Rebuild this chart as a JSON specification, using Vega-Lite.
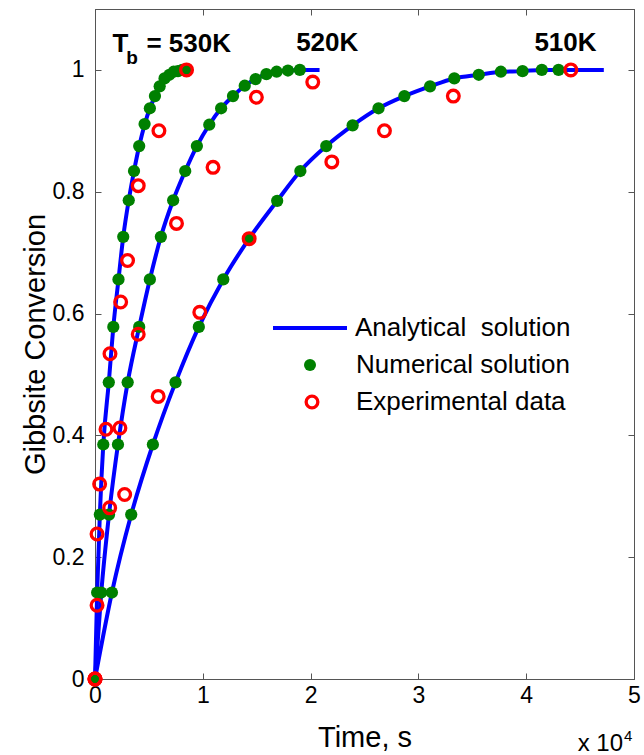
{
  "$schema": "https://vega.github.io/schema/vega-lite/v6.json",
  "width": 539,
  "height": 670,
  "autosize": {"type": "none"},
  "padding": {"left": 95, "top": 9, "right": 10, "bottom": 76},
  "background": "white",
  "datasets": {
    "analytical": [
      {"T": "530K", "t": 0, "X": 0}, {"T": "530K", "t": 200, "X": 0.142}, {"T": "530K", "t": 450, "X": 0.27}, {"T": "530K", "t": 770, "X": 0.385}, {"T": "530K", "t": 1280, "X": 0.487}, {"T": "530K", "t": 1700, "X": 0.578}, {"T": "530K", "t": 2180, "X": 0.656}, {"T": "530K", "t": 2620, "X": 0.726}, {"T": "530K", "t": 3130, "X": 0.786}, {"T": "530K", "t": 3620, "X": 0.834}, {"T": "530K", "t": 4100, "X": 0.875}, {"T": "530K", "t": 4600, "X": 0.91}, {"T": "530K", "t": 5090, "X": 0.937}, {"T": "530K", "t": 5580, "X": 0.957}, {"T": "530K", "t": 6070, "X": 0.973}, {"T": "530K", "t": 6550, "X": 0.986}, {"T": "530K", "t": 7000, "X": 0.994}, {"T": "530K", "t": 7450, "X": 0.998}, {"T": "530K", "t": 7900, "X": 1.0}, {"T": "530K", "t": 8600, "X": 1.0},
      {"T": "520K", "t": 0, "X": 0}, {"T": "520K", "t": 580, "X": 0.142}, {"T": "520K", "t": 1300, "X": 0.27}, {"T": "520K", "t": 2130, "X": 0.385}, {"T": "520K", "t": 3030, "X": 0.487}, {"T": "520K", "t": 4100, "X": 0.578}, {"T": "520K", "t": 5090, "X": 0.656}, {"T": "520K", "t": 6110, "X": 0.726}, {"T": "520K", "t": 7250, "X": 0.786}, {"T": "520K", "t": 8370, "X": 0.834}, {"T": "520K", "t": 9450, "X": 0.875}, {"T": "520K", "t": 10600, "X": 0.91}, {"T": "520K", "t": 11700, "X": 0.937}, {"T": "520K", "t": 12800, "X": 0.957}, {"T": "520K", "t": 13890, "X": 0.974}, {"T": "520K", "t": 14900, "X": 0.985}, {"T": "520K", "t": 15900, "X": 0.993}, {"T": "520K", "t": 16850, "X": 0.997}, {"T": "520K", "t": 17900, "X": 0.999}, {"T": "520K", "t": 19000, "X": 1.0}, {"T": "520K", "t": 20830, "X": 1.0},
      {"T": "510K", "t": 0, "X": 0}, {"T": "510K", "t": 1570, "X": 0.142}, {"T": "510K", "t": 3360, "X": 0.27}, {"T": "510K", "t": 5370, "X": 0.385}, {"T": "510K", "t": 7470, "X": 0.487}, {"T": "510K", "t": 9630, "X": 0.578}, {"T": "510K", "t": 11900, "X": 0.656}, {"T": "510K", "t": 14300, "X": 0.723}, {"T": "510K", "t": 16900, "X": 0.785}, {"T": "510K", "t": 19050, "X": 0.834}, {"T": "510K", "t": 21450, "X": 0.875}, {"T": "510K", "t": 23900, "X": 0.909}, {"T": "510K", "t": 26300, "X": 0.937}, {"T": "510K", "t": 28700, "X": 0.957}, {"T": "510K", "t": 31080, "X": 0.973}, {"T": "510K", "t": 33330, "X": 0.986}, {"T": "510K", "t": 35600, "X": 0.992}, {"T": "510K", "t": 37650, "X": 0.997}, {"T": "510K", "t": 39660, "X": 0.998}, {"T": "510K", "t": 41450, "X": 1.0}, {"T": "510K", "t": 43000, "X": 1.0}, {"T": "510K", "t": 47200, "X": 1.0}
    ],
    "numerical": [
      {"T": "530K", "t": 0, "X": 0}, {"T": "530K", "t": 200, "X": 0.142}, {"T": "530K", "t": 450, "X": 0.27}, {"T": "530K", "t": 770, "X": 0.385}, {"T": "530K", "t": 1280, "X": 0.487}, {"T": "530K", "t": 1700, "X": 0.578}, {"T": "530K", "t": 2180, "X": 0.656}, {"T": "530K", "t": 2620, "X": 0.726}, {"T": "530K", "t": 3130, "X": 0.786}, {"T": "530K", "t": 3620, "X": 0.834}, {"T": "530K", "t": 4100, "X": 0.875}, {"T": "530K", "t": 4600, "X": 0.911}, {"T": "530K", "t": 5090, "X": 0.937}, {"T": "530K", "t": 5560, "X": 0.957}, {"T": "530K", "t": 6000, "X": 0.973}, {"T": "530K", "t": 6450, "X": 0.986}, {"T": "530K", "t": 6900, "X": 0.992}, {"T": "530K", "t": 7300, "X": 0.997}, {"T": "530K", "t": 7700, "X": 0.998}, {"T": "530K", "t": 8100, "X": 1.0}, {"T": "530K", "t": 8490, "X": 1.0},
      {"T": "520K", "t": 0, "X": 0}, {"T": "520K", "t": 580, "X": 0.142}, {"T": "520K", "t": 1300, "X": 0.27}, {"T": "520K", "t": 2130, "X": 0.385}, {"T": "520K", "t": 3030, "X": 0.487}, {"T": "520K", "t": 4100, "X": 0.578}, {"T": "520K", "t": 5090, "X": 0.656}, {"T": "520K", "t": 6110, "X": 0.726}, {"T": "520K", "t": 7250, "X": 0.786}, {"T": "520K", "t": 8370, "X": 0.834}, {"T": "520K", "t": 9450, "X": 0.875}, {"T": "520K", "t": 10600, "X": 0.91}, {"T": "520K", "t": 11700, "X": 0.937}, {"T": "520K", "t": 12800, "X": 0.957}, {"T": "520K", "t": 13890, "X": 0.974}, {"T": "520K", "t": 14900, "X": 0.985}, {"T": "520K", "t": 15900, "X": 0.993}, {"T": "520K", "t": 16850, "X": 0.997}, {"T": "520K", "t": 17900, "X": 0.999}, {"T": "520K", "t": 19000, "X": 1.0},
      {"T": "510K", "t": 0, "X": 0}, {"T": "510K", "t": 1570, "X": 0.142}, {"T": "510K", "t": 3360, "X": 0.27}, {"T": "510K", "t": 5370, "X": 0.385}, {"T": "510K", "t": 7470, "X": 0.487}, {"T": "510K", "t": 9630, "X": 0.578}, {"T": "510K", "t": 11900, "X": 0.656}, {"T": "510K", "t": 14300, "X": 0.723}, {"T": "510K", "t": 16900, "X": 0.785}, {"T": "510K", "t": 19050, "X": 0.834}, {"T": "510K", "t": 21450, "X": 0.875}, {"T": "510K", "t": 23900, "X": 0.909}, {"T": "510K", "t": 26300, "X": 0.937}, {"T": "510K", "t": 28700, "X": 0.957}, {"T": "510K", "t": 31080, "X": 0.973}, {"T": "510K", "t": 33330, "X": 0.986}, {"T": "510K", "t": 35600, "X": 0.992}, {"T": "510K", "t": 37650, "X": 0.997}, {"T": "510K", "t": 39660, "X": 0.998}, {"T": "510K", "t": 41450, "X": 1.0}, {"T": "510K", "t": 43000, "X": 1.0}
    ],
    "experimental": [
      {"T": "530K", "t": 0, "X": 0}, {"T": "530K", "t": 190, "X": 0.121}, {"T": "530K", "t": 190, "X": 0.238}, {"T": "530K", "t": 430, "X": 0.32}, {"T": "530K", "t": 1020, "X": 0.41}, {"T": "530K", "t": 1390, "X": 0.534}, {"T": "530K", "t": 2380, "X": 0.619}, {"T": "530K", "t": 3020, "X": 0.687}, {"T": "530K", "t": 4010, "X": 0.81}, {"T": "530K", "t": 5930, "X": 0.9}, {"T": "530K", "t": 8490, "X": 1.0},
      {"T": "520K", "t": 0, "X": 0}, {"T": "520K", "t": 1360, "X": 0.281}, {"T": "520K", "t": 2310, "X": 0.412}, {"T": "520K", "t": 4010, "X": 0.566}, {"T": "520K", "t": 7560, "X": 0.748}, {"T": "520K", "t": 10950, "X": 0.84}, {"T": "520K", "t": 14970, "X": 0.955}, {"T": "520K", "t": 20200, "X": 0.98},
      {"T": "510K", "t": 0, "X": 0}, {"T": "510K", "t": 2750, "X": 0.303}, {"T": "510K", "t": 5860, "X": 0.464}, {"T": "510K", "t": 9720, "X": 0.602}, {"T": "510K", "t": 14300, "X": 0.723}, {"T": "510K", "t": 21970, "X": 0.849}, {"T": "510K", "t": 26850, "X": 0.9}, {"T": "510K", "t": 33240, "X": 0.957}, {"T": "510K", "t": 44140, "X": 1.0}
    ],
    "labels": [
      {"label": "T", "t": 1620, "X": 1.0286},
      {"label": "= 530K", "t": 4770, "X": 1.0286},
      {"label": "520K", "t": 18660, "X": 1.031},
      {"label": "510K", "t": 40760, "X": 1.031}
    ],
    "sublabels": [
      {"label": "b", "t": 2900, "X": 1.0094}
    ],
    "multiplier": [
      {"base": "x 10", "exponent": "4", "t": 50000, "X": 0}
    ]
  },
  "resolve": {"axis": {"x": "independent", "y": "independent"}},
  "layer": [
    {
      "data": {"name": "analytical"},
      "mark": {"type": "line", "strokeWidth": 4, "interpolate": "monotone"},
      "encoding": {
        "x": {"field": "t", "type": "quantitative", "scale": {"domain": [0, 50000], "nice": false, "zero": false},
          "axis": {"orient": "bottom", "values": [0, 10000, 20000, 30000, 40000, 50000], "labelExpr": "format(datum.value / 10000, '~g')", "tickSize": -6, "labelPadding": 11, "title": "Time, s", "titlePadding": 16, "labelFlush": false, "labelOverlap": false}},
        "y": {"field": "X", "type": "quantitative", "scale": {"domain": [0, 1.1], "nice": false, "zero": false},
          "axis": {"orient": "left", "values": [0, 0.2, 0.4, 0.6, 0.8, 1], "format": "~g", "tickSize": -6, "labelPadding": 17, "title": "Gibbsite Conversion", "titlePadding": 2, "labelFlush": false, "labelOverlap": false}},
        "detail": {"field": "T", "type": "nominal"},
        "stroke": {"datum": "Analytical\u00a0 solution", "type": "nominal",
          "scale": {"domain": ["Analytical\u00a0 solution"], "range": ["#0000ff"]},
          "legend": {"orient": "none", "legendX": 176, "legendY": 280, "title": null, "padding": 0,
            "labelFontSize": 26, "labelFont": "Liberation Sans", "labelColor": "black", "labelLimit": 0,
            "symbolType": "stroke", "symbolSize": 5476, "symbolStrokeWidth": 4, "symbolStrokeColor": "#0000ff", "labelOffset": 6}}
      }
    },
    {
      "data": {"name": "numerical"},
      "mark": {"type": "point", "filled": true, "size": 150, "opacity": 1},
      "encoding": {
        "x": {"field": "t", "type": "quantitative", "scale": {"domain": [0, 50000], "nice": false, "zero": false},
          "axis": {"orient": "top", "values": [0, 10000, 20000, 30000, 40000, 50000], "labels": false, "tickSize": -6, "title": null}},
        "y": {"field": "X", "type": "quantitative", "scale": {"domain": [0, 1.1], "nice": false, "zero": false},
          "axis": {"orient": "right", "values": [0, 0.2, 0.4, 0.6, 0.8, 1], "labels": false, "tickSize": -6, "title": null}},
        "fill": {"datum": "Numerical solution", "type": "nominal",
          "scale": {"domain": ["Numerical solution"], "range": ["#008000"]},
          "legend": {"orient": "none", "legendX": 202, "legendY": 343, "title": null, "padding": 0,
            "labelFontSize": 26, "labelFont": "Liberation Sans", "labelColor": "black", "labelLimit": 0,
            "symbolType": "circle", "symbolSize": 144, "symbolOpacity": 1, "labelOffset": 33}}
      }
    },
    {
      "data": {"name": "experimental"},
      "mark": {"type": "point", "filled": false, "size": 137, "strokeWidth": 3.3, "opacity": 1},
      "encoding": {
        "x": {"field": "t", "type": "quantitative", "axis": null},
        "y": {"field": "X", "type": "quantitative", "axis": null},
        "color": {"datum": "Experimental data", "type": "nominal",
          "scale": {"domain": ["Experimental data"], "range": ["#ff0000"]},
          "legend": {"orient": "none", "legendX": 204, "legendY": 380, "title": null, "padding": 0,
            "labelFontSize": 26, "labelFont": "Liberation Sans", "labelColor": "black", "labelLimit": 0,
            "symbolType": "circle", "symbolSize": 137, "symbolStrokeWidth": 3.3, "symbolOpacity": 1, "labelOffset": 31}}
      }
    },
    {
      "data": {"name": "labels"},
      "mark": {"type": "text", "align": "left", "baseline": "alphabetic", "font": "Liberation Sans", "fontWeight": "bold", "fontSize": 26, "color": "black"},
      "encoding": {
        "x": {"field": "t", "type": "quantitative", "axis": null},
        "y": {"field": "X", "type": "quantitative", "axis": null},
        "text": {"field": "label"}
      }
    },
    {
      "data": {"name": "sublabels"},
      "mark": {"type": "text", "align": "left", "baseline": "alphabetic", "font": "Liberation Sans", "fontWeight": "bold", "fontSize": 19, "color": "black"},
      "encoding": {
        "x": {"field": "t", "type": "quantitative", "axis": null},
        "y": {"field": "X", "type": "quantitative", "axis": null},
        "text": {"field": "label"}
      }
    },
    {
      "data": {"name": "multiplier"},
      "mark": {"type": "text", "align": "right", "baseline": "alphabetic", "dx": -11, "dy": 72, "font": "Liberation Sans", "fontSize": 24, "color": "black"},
      "encoding": {
        "x": {"field": "t", "type": "quantitative", "axis": null},
        "y": {"field": "X", "type": "quantitative", "axis": null},
        "text": {"field": "base"}
      }
    },
    {
      "data": {"name": "multiplier"},
      "mark": {"type": "text", "align": "left", "baseline": "alphabetic", "dx": -10, "dy": 62, "font": "Liberation Sans", "fontSize": 15, "color": "black"},
      "encoding": {
        "x": {"field": "t", "type": "quantitative", "axis": null},
        "y": {"field": "X", "type": "quantitative", "axis": null},
        "text": {"field": "exponent"}
      }
    }
  ],
  "config": {
    "view": {"stroke": "#555555", "strokeWidth": 1},
    "axis": {
      "grid": false,
      "domainColor": "#555555",
      "tickColor": "#555555",
      "labelColor": "black",
      "titleColor": "black",
      "labelFont": "Liberation Sans",
      "titleFont": "Liberation Sans",
      "labelFontSize": 23,
      "titleFontSize": 29,
      "titleFontWeight": "normal"
    }
  }
}
